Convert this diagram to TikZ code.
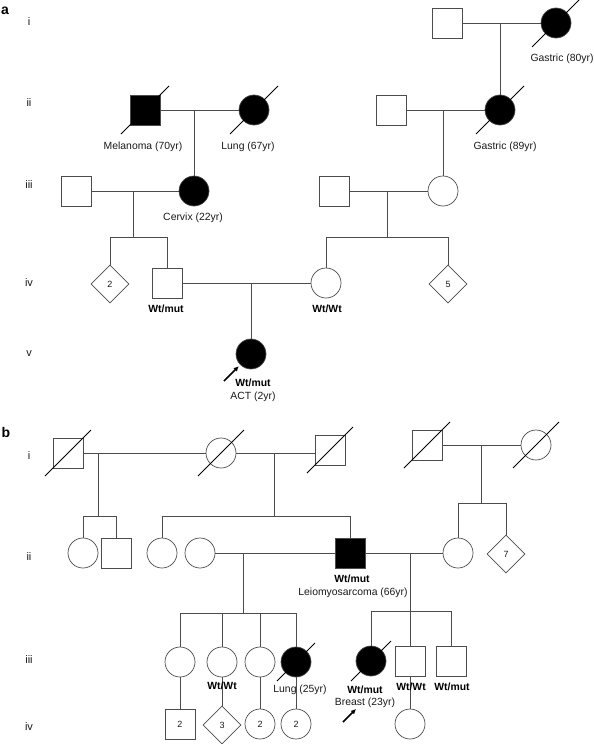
\documentclass[tikz,border=0pt]{standalone}
\usepackage{fontspec}
\setmainfont{Liberation Sans}
\usetikzlibrary{shapes.geometric,arrows.meta}
\definecolor{lc}{gray}{0.3}
\definecolor{tc}{gray}{0.1}
\newcommand\pdec[2][24]{\draw[dslash] ([shift={(-#1,#1)}]#2.center) -- ([shift={(#1,-#1)}]#2.center);}
\begin{document}
\begin{tikzpicture}[x=1pt,y=-1pt,
  ind/.style={draw=lc,line width=0.7pt,inner sep=0pt,minimum size=30pt,font=\fontsize{9}{10}\selectfont,text=tc},
  male/.style={ind,rectangle},
  female/.style={ind,circle},
  unk/.style={ind,diamond,minimum size=38pt},
  aff/.style={fill=black},
  rel/.style={draw=lc,line width=0.7pt},
  dslash/.style={draw=black,line width=0.8pt},
  lbl/.style={font=\fontsize{10.4}{12}\selectfont,text=tc,inner sep=0pt},
  gt/.style={font=\fontsize{10.4}{12}\selectfont\bfseries,text=black,inner sep=0pt},
  gen/.style={font=\fontsize{11}{12}\selectfont,text=tc,inner sep=0pt},
  panel/.style={font=\fontsize{14}{14}\selectfont\bfseries,inner sep=0pt},
  proband/.style={line width=1.6pt,-{Latex[length=5pt,width=5pt]}}
]
\useasboundingbox (0,0) rectangle (594,744);
% ---------------- Panel a ----------------
\node[panel] (la) at (5,11) {a};
\node[gen] (gai) at (29,22) {i};
\node[gen] (gaii) at (29,103) {ii};
\node[gen] (gaiii) at (29,185) {iii};
\node[gen] (gaiv) at (29,283) {iv};
\node[gen] (gav) at (29,354) {v};

\node[male] (aI1) at (447,23) {};
\node[female,aff] (aI2) at (556,23) {};
\node[male,aff] (aII1) at (145,110) {};
\node[female,aff] (aII2) at (254,110) {};
\node[male] (aII3) at (391,110) {};
\node[female,aff] (aII4) at (500,110) {};
\node[male] (aIII1) at (76,191) {};
\node[female,aff] (aIII2) at (194,191) {};
\node[male] (aIII3) at (334,191) {};
\node[female] (aIII4) at (443,191) {};
\node[unk] (aIV1) at (110,284) {2};
\node[male] (aIV2) at (167,283) {};
\node[female] (aIV3) at (326,283) {};
\node[unk] (aIV4) at (448,284) {5};
\node[female,aff] (aV1) at (251,354) {};

\draw[rel] (aI1.east) -- (aI2.west);
\draw[rel] (aII4.north |- aI1.east) -- (aII4.north);
\draw[rel] (aII1.east) -- (aII2.west);
\draw[rel] (aIII2.north |- aII1.east) -- (aIII2.north);
\draw[rel] (aII3.east) -- (aII4.west);
\draw[rel] (aIII4.north |- aII3.east) -- (aIII4.north);
\draw[rel] (aIII1.east) -- (aIII2.west);
\coordinate (aS1) at (133,237);
\draw[rel] (aS1 |- aIII1.east) -- (aS1);
\draw[rel] (aIV1.north) |- (aIV2.north |- aS1) -- (aIV2.north);
\draw[rel] (aIII3.east) -- (aIII4.west);
\coordinate (aS2) at (387,237);
\draw[rel] (aS2 |- aIII3.east) -- (aS2);
\draw[rel] (aIV3.north) |- (aIV4.north |- aS2) -- (aIV4.north);
\draw[rel] (aIV2.east) -- (aIV3.west);
\draw[rel] (aV1.north |- aIV2.east) -- (aV1.north);

\pdec{aI2}
\pdec{aII1}
\pdec{aII2}
\pdec{aII4}

\node[lbl] (tGa80) at (562,59) {Gastric (80yr)};
\node[lbl] (tMel) at (143,147) {Melanoma (70yr)};
\node[lbl] (tLung67) at (248,147) {Lung (67yr)};
\node[lbl] (tGa89) at (505,147) {Gastric (89yr)};
\node[lbl] (tCer) at (193,218) {Cervix (22yr)};
\node[gt] (gA1) at (166,309) {Wt/mut};
\node[gt] (gA2) at (327,309) {Wt/Wt};
\node[gt] (gA3) at (253,383) {Wt/mut};
\node[lbl] (tACT) at (253,397) {ACT (2yr)};
\coordinate (arA) at (224,381);
\draw[proband,shorten >=2pt] (arA) -- (aV1.south west);

% ---------------- Panel b ----------------
\node[panel] (lb) at (6,432) {b};
\node[gen] (gbi) at (29,456) {i};
\node[gen] (gbii) at (29,557) {ii};
\node[gen] (gbiii) at (29,660) {iii};
\node[gen] (gbiv) at (29,727) {iv};

\node[male] (bI1) at (68,453) {};
\node[female] (bI2) at (221,453) {};
\node[male] (bI3) at (330,450) {};
\node[male] (bI4) at (427,445) {};
\node[female] (bI5) at (536,445) {};
\draw[rel] (bI1.east) -- (bI2.west);
\draw[rel] (bI2.east) -- (bI2.east -| bI3.west);
\draw[rel] (bI4.east) -- (bI5.west);

\node[female] (bII1) at (83,553) {};
\node[male] (bII2) at (116,553) {};
\node[female] (bII3) at (162,553) {};
\node[female] (bII4) at (200,553) {};
\node[male,aff] (bII5) at (350,553) {};
\node[female] (bII6) at (458,553) {};
\node[unk] (bII7) at (506,554) {7};

\coordinate (bS1) at (98,516);
\draw[rel] (bS1 |- bI1.east) -- (bS1);
\draw[rel] (bII1.north) |- (bII2.north |- bS1) -- (bII2.north);
\coordinate (bS2) at (274,516);
\draw[rel] (bS2 |- bI2.east) -- (bS2);
\draw[rel] (bII3.north) |- (bII5.north |- bS2) -- (bII5.north);
\coordinate (bS3) at (481,503);
\draw[rel] (bS3 |- bI4.east) -- (bS3);
\draw[rel] (bII6.north) |- (bII7.north |- bS3) -- (bII7.north);

\pdec[23]{bI1}
\pdec[23]{bI2}
\pdec[23]{bI3}
\pdec[23]{bI4}
\pdec[23]{bI5}

\node[female] (bIII1) at (180,662) {};
\node[female] (bIII2) at (222,662) {};
\node[female] (bIII3) at (260,662) {};
\node[female,aff] (bIII4) at (296,662) {};
\node[female,aff] (bIII5) at (371,661) {};
\node[male] (bIII6) at (410,661) {};
\node[male] (bIII7) at (451,661) {};

\draw[rel] (bII4.east) -- (bII5.west);
\coordinate (bS4) at (243,613);
\draw[rel] (bS4 |- bII4.east) -- (bS4);
\draw[rel] (bIII1.north) |- (bIII4.north |- bS4) -- (bIII4.north);
\draw[rel] (bIII2.north |- bS4) -- (bIII2.north);
\draw[rel] (bIII3.north |- bS4) -- (bIII3.north);

\draw[rel] (bII5.east) -- (bII6.west);
\coordinate (bS5) at (410,611);
\draw[rel] (bS5 |- bII5.east) -- (bS5);
\draw[rel] (bIII5.north) |- (bIII7.north |- bS5) -- (bIII7.north);
\draw[rel] (bS5) -- (bIII6.north);

\pdec[19]{bIII4}
\pdec[20]{bIII5}

\node[male] (bIV1) at (180,724) {2};
\node[unk] (bIV2) at (222,725) {3};
\node[female] (bIV3) at (260,724) {2};
\node[female] (bIV4) at (296,724) {2};
\node[female] (bIV5) at (410,724) {};
\draw[rel] (bIII1.south) -- (bIV1.north);
\draw[rel] (bIII2.south) -- (bIV2.north);
\draw[rel] (bIII3.south) -- (bIV3.north);
\draw[rel] (bIII4.south) -- (bIV4.north);
\draw[rel] (bIII6.south) -- (bIV5.north);

\node[gt] (gB1) at (352,579) {Wt/mut};
\node[lbl] (tLeio) at (353,593) {Leiomyosarcoma (66yr)};
\node[gt] (gB2) at (222,686) {Wt/Wt};
\node[lbl] (tLung25) at (300,690) {Lung (25yr)};
\node[gt] (gB3) at (365,690) {Wt/mut};
\node[lbl] (tBreast) at (365,703) {Breast (23yr)};
\node[gt] (gB4) at (411,687) {Wt/Wt};
\node[gt] (gB5) at (452,687) {Wt/mut};
\coordinate (arB1) at (343,722);
\coordinate (arB2) at (356,709);
\draw[proband] (arB1) -- (arB2);
\end{tikzpicture}
\end{document}
